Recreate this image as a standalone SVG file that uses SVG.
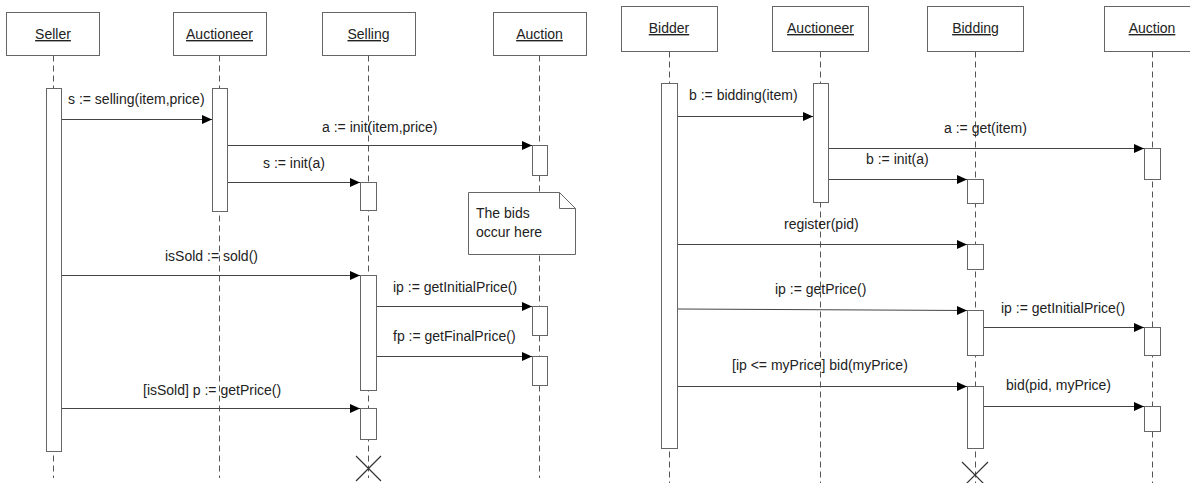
<svg xmlns="http://www.w3.org/2000/svg" width="1190" height="483" viewBox="0 0 1190 483">
<style>
.box{fill:#fff;stroke:#666;stroke-width:1}
.act{fill:#fff;stroke:#666;stroke-width:1}
.life{stroke:#555;stroke-width:1;stroke-dasharray:6 4;fill:none}
.msg{stroke:#444;stroke-width:1;fill:none;marker-end:url(#ah)}
.hd{font-family:"Liberation Sans",Arial,sans-serif;font-size:14px;fill:#222;text-anchor:middle;text-decoration:underline}
.lb{font-family:"Liberation Sans",Arial,sans-serif;font-size:14px;fill:#222}
.x{stroke:#333;stroke-width:1.2;fill:none}
</style>
<defs>
<marker id="ah" markerUnits="userSpaceOnUse" markerWidth="11" markerHeight="10" refX="10" refY="5" orient="auto">
<path d="M0,0.5 L10,5 L0,9.5 Z" fill="#000"/>
</marker>
</defs>
<rect width="1190" height="483" fill="#fff"/>

<!-- Left diagram lifelines -->
<g id="seller">
<rect class="box" x="6.5" y="12.5" width="93" height="43"/>
<text class="hd" x="53" y="39">Seller</text>
<line class="life" x1="53.5" y1="55.5" x2="53.5" y2="478"/>
<rect class="act" x="46.5" y="88.5" width="15" height="363"/>
</g>
<g id="auctioneer1">
<rect class="box" x="173.5" y="12.5" width="93" height="43"/>
<text class="hd" x="219.5" y="39">Auctioneer</text>
<line class="life" x1="219.5" y1="55.5" x2="219.5" y2="478"/>
<rect class="act" x="212.5" y="88.5" width="15" height="123"/>
</g>
<g id="selling">
<rect class="box" x="322.5" y="12.5" width="93" height="43"/>
<text class="hd" x="368.5" y="39">Selling</text>
<line class="life" x1="368.5" y1="55.5" x2="368.5" y2="478"/>
<rect class="act" x="360.5" y="182.5" width="16" height="28"/>
<rect class="act" x="360.5" y="275.5" width="16" height="115"/>
<rect class="act" x="360.5" y="408.5" width="16" height="31"/>
<path class="x" d="M356,456 L381,481 M381,456 L356,481"/>
</g>
<g id="auction1">
<rect class="box" x="493.5" y="12.5" width="93" height="43"/>
<text class="hd" x="539.5" y="39">Auction</text>
<line class="life" x1="539.5" y1="55.5" x2="539.5" y2="478"/>
<rect class="act" x="532.5" y="145.5" width="15" height="30"/>
<rect class="act" x="532.5" y="306.5" width="15" height="29"/>
<rect class="act" x="532.5" y="356.5" width="15" height="29"/>
</g>
<g id="note">
<path class="box" d="M468.5,192.5 H559.5 L575.5,208.5 V254.5 H468.5 Z"/>
<path d="M559.5,192.5 V208.5 H575.5" fill="none" stroke="#666"/>
<text class="lb" x="476" y="218">The bids</text>
<text class="lb" x="476" y="237">occur here</text>
</g>

<!-- Right diagram lifelines -->
<g id="bidder">
<rect class="box" x="621.5" y="6.5" width="96" height="45"/>
<text class="hd" x="669" y="33">Bidder</text>
<line class="life" x1="669.5" y1="51.5" x2="669.5" y2="483"/>
<rect class="act" x="661.5" y="83.5" width="16" height="365"/>
</g>
<g id="auctioneer2">
<rect class="box" x="772.5" y="6.5" width="96" height="45"/>
<text class="hd" x="820.5" y="33">Auctioneer</text>
<line class="life" x1="820.5" y1="51.5" x2="820.5" y2="483"/>
<rect class="act" x="813.5" y="83.5" width="15" height="119"/>
</g>
<g id="bidding">
<rect class="box" x="927.5" y="6.5" width="96" height="45"/>
<text class="hd" x="975.5" y="33">Bidding</text>
<line class="life" x1="975.5" y1="51.5" x2="975.5" y2="483"/>
<rect class="act" x="967.5" y="179.5" width="16" height="24"/>
<rect class="act" x="967.5" y="244.5" width="16" height="25"/>
<rect class="act" x="967.5" y="310.5" width="16" height="45"/>
<rect class="act" x="967.5" y="386.5" width="16" height="62"/>
<path class="x" d="M962,462 L988,488 M988,462 L962,488"/>
</g>
<g id="auction2">
<rect class="box" x="1104.5" y="6.5" width="96" height="45"/>
<text class="hd" x="1152" y="33">Auction</text>
<line class="life" x1="1152.5" y1="51.5" x2="1152.5" y2="483"/>
<rect class="act" x="1144.5" y="148.5" width="16" height="31"/>
<rect class="act" x="1144.5" y="327.5" width="16" height="28"/>
<rect class="act" x="1144.5" y="406.5" width="16" height="25"/>
</g>

<g id="connectors">
<!-- left -->
<line class="msg" x1="62" y1="119.5" x2="212" y2="119.5"/>
<text class="lb" x="68" y="104">s := selling(item,price)</text>
<line class="msg" x1="228" y1="145.5" x2="532" y2="145.5"/>
<text class="lb" x="322" y="132">a := init(item,price)</text>
<line class="msg" x1="228" y1="182.5" x2="360" y2="182.5"/>
<text class="lb" x="263" y="168">s := init(a)</text>
<line class="msg" x1="62" y1="275.5" x2="360" y2="275.5"/>
<text class="lb" x="165" y="261">isSold := sold()</text>
<line class="msg" x1="377" y1="306.5" x2="532" y2="306.5"/>
<text class="lb" x="393" y="292">ip := getInitialPrice()</text>
<line class="msg" x1="377" y1="356.5" x2="532" y2="356.5"/>
<text class="lb" x="393" y="341">fp := getFinalPrice()</text>
<line class="msg" x1="62" y1="408.5" x2="360" y2="408.5"/>
<text class="lb" x="143" y="395">[isSold] p := getPrice()</text>
<!-- right -->
<line class="msg" x1="678" y1="116.5" x2="813" y2="116.5"/>
<text class="lb" x="689" y="100">b := bidding(item)</text>
<line class="msg" x1="829" y1="148.5" x2="1144" y2="148.5"/>
<text class="lb" x="944" y="133">a := get(item)</text>
<line class="msg" x1="829" y1="179.5" x2="967" y2="179.5"/>
<text class="lb" x="866" y="164">b := init(a)</text>
<line class="msg" x1="678" y1="244.5" x2="967" y2="244.5"/>
<text class="lb" x="784" y="229">register(pid)</text>
<line class="msg" x1="678" y1="309" x2="967" y2="310.5"/>
<text class="lb" x="775" y="294">ip := getPrice()</text>
<line class="msg" x1="984" y1="327.5" x2="1144" y2="327.5"/>
<text class="lb" x="1001" y="313">ip := getInitialPrice()</text>
<line class="msg" x1="678" y1="386.5" x2="967" y2="386.5"/>
<text class="lb" x="732" y="370">[ip &lt;= myPrice] bid(myPrice)</text>
<line class="msg" x1="984" y1="406.5" x2="1144" y2="406.5"/>
<text class="lb" x="1006" y="390">bid(pid, myPrice)</text>
</g>
</svg>
